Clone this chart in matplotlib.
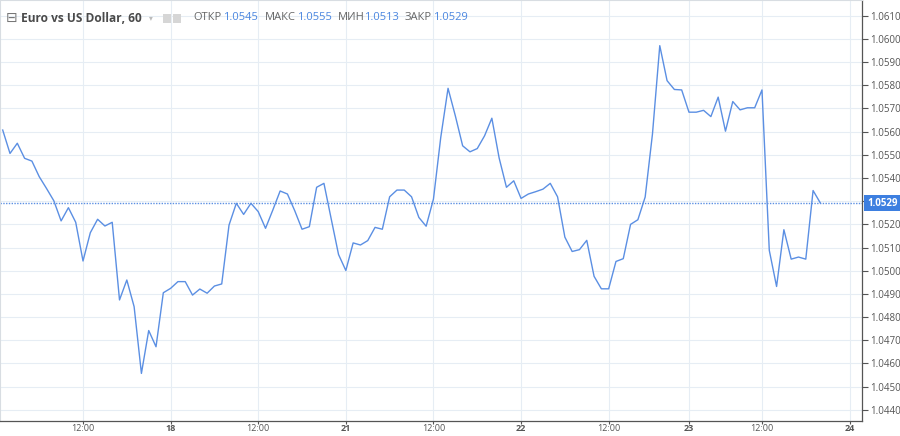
import numpy as np
import matplotlib
matplotlib.use("Agg")
import matplotlib.pyplot as plt
import matplotlib.transforms as mtransforms
from matplotlib.patches import FancyBboxPatch

plt.rcParams['font.family'] = ['Open Sans', 'DejaVu Sans']

# hourly EURUSD closes
closes = [
    1.05607, 1.05506, 1.05550, 1.05485, 1.05473, 1.05406, 1.05355, 1.05302, 1.05215, 1.05272,
    1.05209, 1.05042, 1.05164, 1.05222, 1.05193, 1.05209, 1.04874, 1.04960, 1.04845, 1.04557,
    1.04742, 1.04672, 1.04905, 1.04924, 1.04953, 1.04953, 1.04895, 1.04921, 1.04903, 1.04934,
    1.04943, 1.05197, 1.05291, 1.05243, 1.05291, 1.05255, 1.05183, 1.05262, 1.05344, 1.05331,
    1.05259, 1.05179, 1.05190, 1.05360, 1.05377, 1.05223, 1.05070, 1.05001, 1.05120, 1.05111,
    1.05130, 1.05187, 1.05179, 1.05319, 1.05348, 1.05348, 1.05319, 1.05230, 1.05192, 1.05309,
    1.05575, 1.05787, 1.05668, 1.05539, 1.05513, 1.05527, 1.05582, 1.05658, 1.05486, 1.05360,
    1.05388, 1.05312, 1.05331, 1.05341, 1.05352, 1.05377, 1.05319, 1.05145, 1.05083, 1.05091,
    1.05131, 1.04976, 1.04922, 1.04922, 1.05040, 1.05052, 1.05200, 1.05220, 1.05318, 1.05590,
    1.05971, 1.05820, 1.05782, 1.05780, 1.05684, 1.05684, 1.05692, 1.05665, 1.05749, 1.05602,
    1.05730, 1.05694, 1.05703, 1.05703, 1.05780, 1.05088, 1.04932, 1.05177, 1.05050, 1.05059,
    1.05050, 1.05346, 1.05292,
]

# time axis labels and their bar positions
tick_pos = [11, 23, 35, 47, 59, 71, 83, 94, 104, 116]
tick_labels = ['12:00', '18', '12:00', '21', '12:00', '22', '12:00', '23', '12:00', '24']
price_ticks = [round(1.0440 + 0.001 * k, 4) for k in range(18)]

# header values
symbol = 'Euro vs US Dollar, 60'
ohlc_names = ['ОТКР', 'МАКС', 'МИН', 'ЗАКР']
ohlc_vals = ['1.0545', '1.0555', '1.0513', '1.0529']

blue = '#5b8fe3'
grid_c = '#e6edf4'
text_c = '#555555'

fig = plt.figure(figsize=(9, 4.36), dpi=100)
ax = fig.add_axes([0.0, 0.0351, 862 / 900, 1 - 0.0351])

x = np.arange(len(closes))
ax.plot(x, closes, color=blue, lw=1.0)
last = closes[-1]
ax.axhline(last, color=blue, lw=1.0, ls=(0, (1, 1)))

ax.set_xlim(-0.37, 117.7)
ax.set_ylim(1.04353, 1.06168)

ax.set_xticks(tick_pos)
ax.set_xticklabels(tick_labels)
for lab in ax.get_xticklabels():
    if ':' not in lab.get_text():
        lab.set_fontweight('bold')
        lab.set_color('#444444')
ax.set_yticks(price_ticks)
# the label nearest the last price is hidden behind the price tag
ax.set_yticklabels(['' if abs(v - last) < 0.0005 else f'{v:.4f}' for v in price_ticks])
ax.yaxis.tick_right()
ax.tick_params(axis='y', length=4, width=0.8, color='#555555', labelsize=7,
               labelcolor=text_c, pad=2)
ax.tick_params(axis='x', length=2, width=0.8, color='#555555', labelsize=6.5,
               labelcolor=text_c, pad=0.5)
ax.grid(True, color=grid_c, lw=0.8)
ax.set_axisbelow(True)

for s in ['top', 'left']:
    ax.spines[s].set_color('#d8dde2')
    ax.spines[s].set_linewidth(0.8)
for s in ['right', 'bottom']:
    ax.spines[s].set_color('#555555')
    ax.spines[s].set_linewidth(0.9)

# last price tag on the right axis
trans = mtransforms.blended_transform_factory(ax.transAxes, ax.transData)
ax.text(1.006, last, f'{last:.4f}', transform=trans, ha='left', va='center',
        fontsize=7, color='white', fontweight='bold', clip_on=False,
        bbox=dict(boxstyle='square,pad=0.3', fc='#3d7fe0', ec='none'))

# header line
def px(xp):
    return xp / 900

hy = 1 - 18 / 436
fig.text(px(6), hy, '⊟', fontsize=10, color='#777777', va='center',
         family=['DejaVu Sans'])
fig.text(px(21), hy, symbol, fontsize=8.6, color='#4a4a4a', fontweight='bold', va='center')
fig.text(px(149), hy, '▾', fontsize=5.5, color='#bbbbbb', va='center', family=['DejaVu Sans'])
for xp in (163, 173):
    fig.patches.append(FancyBboxPatch((px(xp), 1 - 23 / 436), 8 / 900, 9 / 436,
                                      boxstyle='round,pad=0.0', fc='#d6d6d6', ec='none',
                                      transform=fig.transFigure, figure=fig))
name_x = [193, 265, 338, 405]
val_x = [223, 297, 364, 433]
for nx, vx, n, v in zip(name_x, val_x, ohlc_names, ohlc_vals):
    fig.text(px(nx), hy, n, fontsize=8, color='#666666', va='center')
    fig.text(px(vx), hy, v, fontsize=8, color='#4a86e0', va='center')

fig.savefig('out.png', dpi=100, facecolor='white')
